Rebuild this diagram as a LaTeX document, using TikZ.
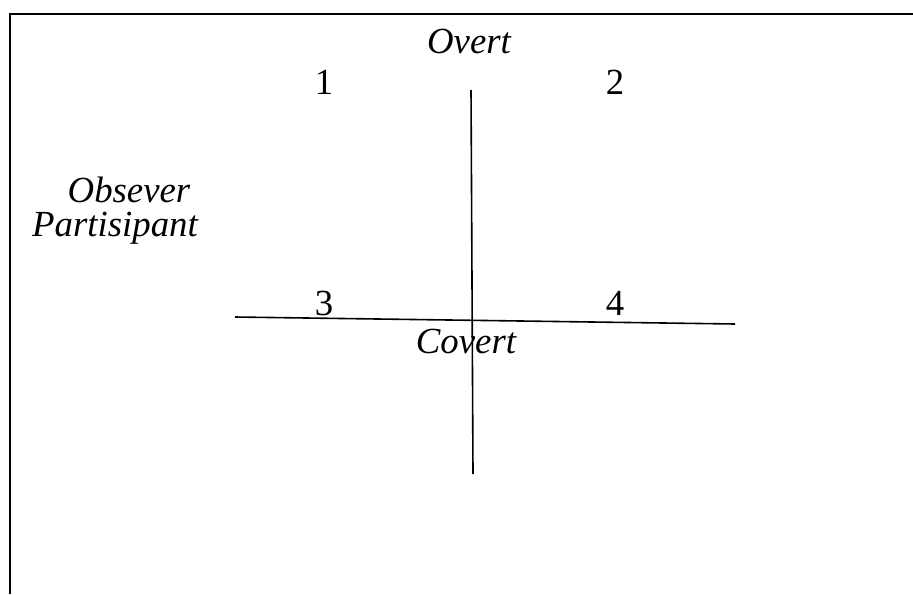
\documentclass[tikz,border=0pt]{standalone}
\usepackage{fontspec}
\setmainfont{Liberation Serif}
\usetikzlibrary{positioning}

\begin{document}
\begin{tikzpicture}[
    x=0.5pt, y=-0.5pt,
    label/.style={inner sep=0pt, font=\fontsize{18.4}{22}\selectfont},
    axislabel/.style={label, font=\fontsize{18.4}{22}\selectfont\itshape},
    axis/.style={line width=0.8pt},
    frame/.style={line width=1.1pt},
]
\useasboundingbox (0,0) rectangle (913,594);

% Frame
\coordinate (fbl) at (10,594);
\coordinate (ftl) at (10,14);
\coordinate (ftr) at (913,14);
\draw[frame] (fbl) -- (ftl) -- (ftr);

% Axes
\coordinate (vtop) at (471,90);
\coordinate (vbot) at (473,474);
\coordinate (hleft) at (235,317);
\coordinate (hright) at (735,324);
\draw[axis] (vtop) -- (vbot);
\draw[axis] (hleft) -- (hright);

% Labels
\node[axislabel] (overt) at (469,41) {Overt};
\node[axislabel] (covert) at (466,341) {Covert};
\node[axislabel] (obs) at (129,190) {Obsever};
\node[axislabel] (par) at (115,228) {Partisipant};

% Quadrants
\node[label] (q1) at (324,82) {1};
\node[label] (q2) at (615,82) {2};
\node[label] (q3) at (324,303) {3};
\node[label] (q4) at (615,303) {4};

\end{tikzpicture}
\end{document}
